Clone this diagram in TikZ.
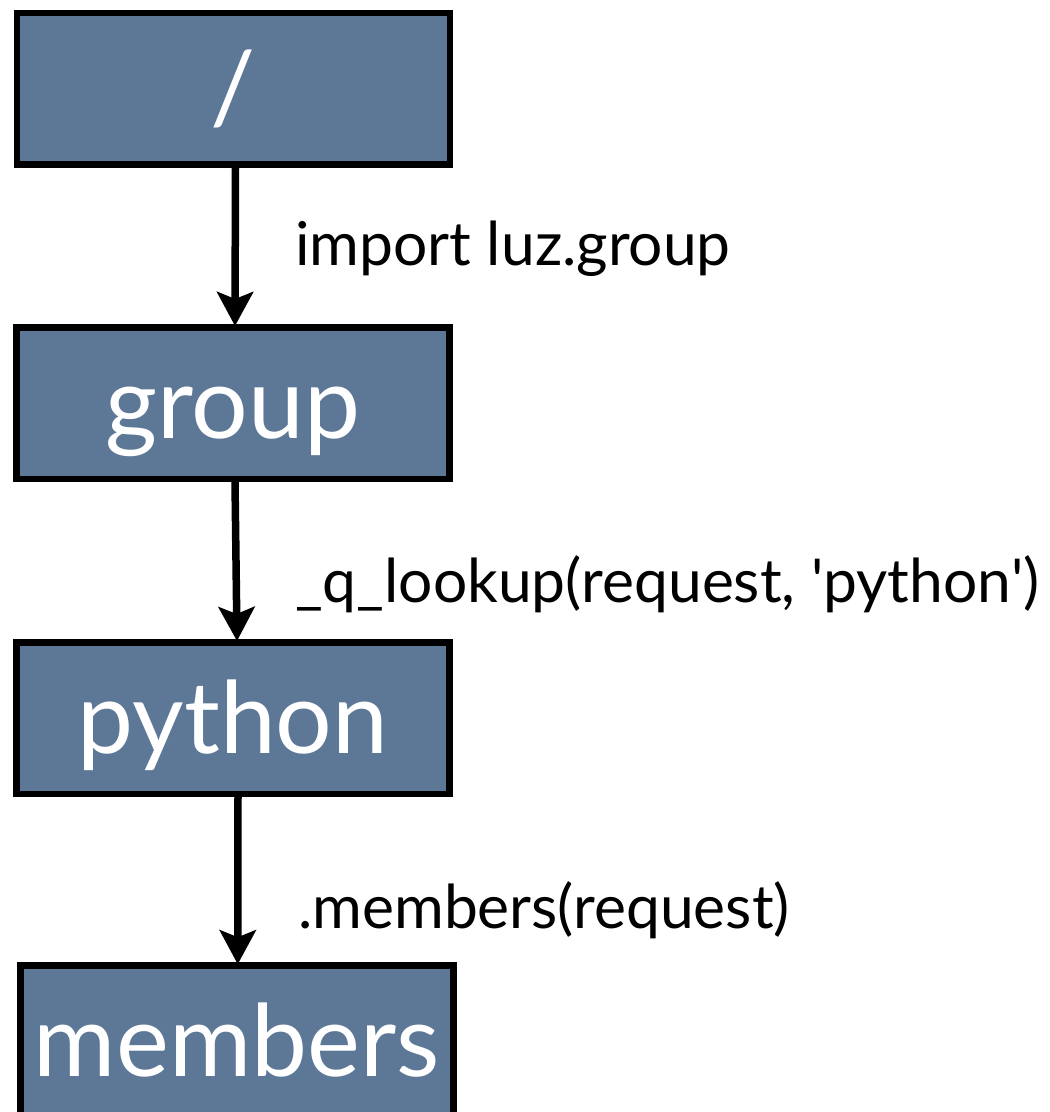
\documentclass[tikz,border=0pt]{standalone}
\usepackage{fontspec}
\setmainfont{Lato}
\usetikzlibrary{arrows.meta}
\definecolor{boxblue}{RGB}{93,119,151}
\tikzset{
  box/.style={draw=black, line width=6.5pt, fill=boxblue, text=white,
    minimum width=433pt, minimum height=151.5pt, inner sep=0pt,
    font=\fontsize{100}{110}\selectfont, text height=70pt, text depth=0pt},
  conn/.style={line width=7.5pt, -{Stealth[length=34pt,width=36pt,inset=7pt]}, shorten >=-2pt},
  lbl/.style={anchor=base west, inner sep=0pt, font=\fontsize{60.5}{66}\selectfont}
}
\begin{document}
\begin{tikzpicture}[x=1pt,y=-1pt]
\useasboundingbox (0,0) rectangle (1050,1112);
\node[box] (root) at (233.5,88.75) {/};
\node[box] (group) at (233,403) {group};
\node[box] (python) at (233,718) {python};
\node[box] (members) at (236.75,1041.25) {members};
\draw[conn] ([xshift=2pt]root.south) -- ([xshift=2pt]group.north);
\draw[conn] ([xshift=2pt]group.south) -- ([xshift=4pt]python.north);
\draw[conn] ([xshift=5pt]python.south) -- ([xshift=1pt]members.north);
\node[lbl] (l1) at (295,265) {import luz.group};
\node[lbl] (l2) at (295,602) {\_q\_lookup(request, \textquotesingle python\textquotesingle)};
\node[lbl] (l3) at (298,928) {.members(request)};
\end{tikzpicture}
\end{document}
